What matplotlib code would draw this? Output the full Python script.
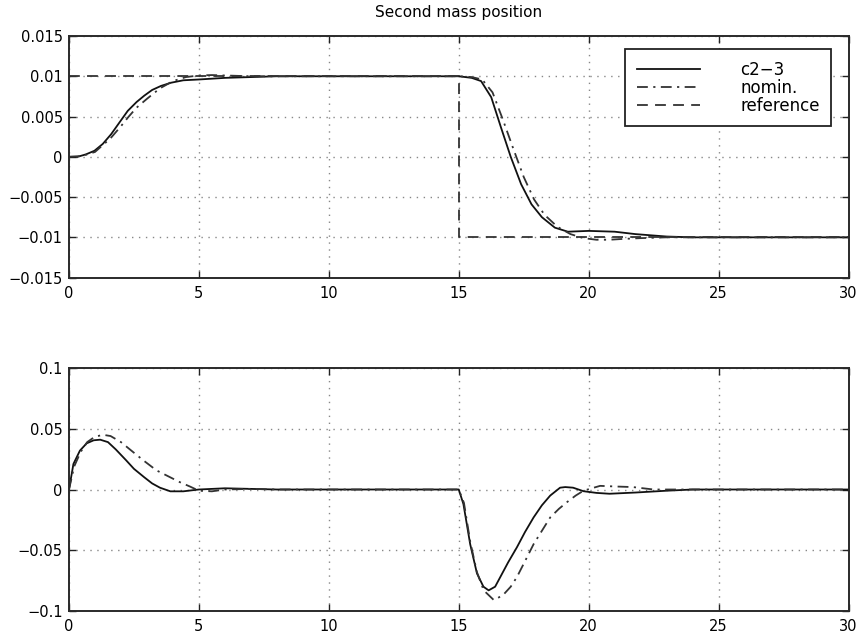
import matplotlib
matplotlib.use("Agg")
import matplotlib.pyplot as plt
from matplotlib.ticker import FixedLocator

plt.rcParams['font.family'] = ['DejaVu Sans']

title = "Second mass position"
legend_labels = ["c2\u22123", "nomin.", "reference"]

# ---- top panel: second mass position ----
t_c23_pos = [0, 0.33, 0.65, 0.98, 1.3, 1.62, 1.95, 2.26, 2.6, 2.9, 3.2, 3.54, 3.93, 4.4, 5.0, 6.0, 7.0, 8.0,
             15.0, 15.5, 15.86, 16.25, 16.63, 17.0, 17.4, 17.8, 18.2, 18.7, 19.2, 20.0, 21.0, 21.8, 23.0, 24.0, 30.0]
c23_pos = [0, 0.0, 0.0003, 0.00075, 0.0016, 0.0028, 0.0043, 0.0057, 0.0068, 0.0076, 0.0083, 0.0088, 0.0092, 0.0095, 0.0096, 0.0098, 0.0099, 0.01,
           0.01, 0.0098, 0.0094, 0.0074, 0.0036, 0.0, -0.0034, -0.0059, -0.0075, -0.0088, -0.0093, -0.0092, -0.0093, -0.0096, -0.0099, -0.01, -0.01]

t_nom_pos = [0, 0.5, 1.0, 1.6, 2.0, 2.3, 2.6, 3.0, 3.5, 4.0, 4.5, 5.0, 5.5, 6.0, 7.0, 8.0,
             15.0, 15.5, 15.9, 16.3, 16.7, 17.1, 17.5, 17.9, 18.3, 18.8, 19.3, 19.8, 20.3, 20.8, 21.3, 22.0, 23.0, 30.0]
nom_pos = [0, 0.0001, 0.0006, 0.0023, 0.0038, 0.0050, 0.0061, 0.0072, 0.0085, 0.0094, 0.0099, 0.0101, 0.01015, 0.0101, 0.01, 0.01,
           0.01, 0.0099, 0.0096, 0.0080, 0.0046, 0.0010, -0.0025, -0.0053, -0.0072, -0.0087, -0.0096, -0.0101, -0.0103, -0.0103, -0.0102, -0.0101, -0.01, -0.01]

t_ref = [0, 15, 15, 30]
ref_pos = [0.01, 0.01, -0.01, -0.01]

# ---- bottom panel ----
t_c23_b = [0, 0.17, 0.42, 0.68, 0.95, 1.2, 1.5, 1.8, 2.2, 2.5, 2.9, 3.2, 3.5, 3.9, 4.4, 5.0, 6.0, 7.0, 8.0,
           15.0, 15.18, 15.44, 15.7, 15.95, 16.15, 16.4, 16.6, 16.9, 17.24, 17.55, 17.88, 18.2, 18.52, 18.9, 19.1, 19.4,
           19.8, 20.3, 20.8, 21.8, 23.0, 24.0, 30.0]
c23_b = [0, 0.021, 0.032, 0.038, 0.0405, 0.041, 0.039, 0.033, 0.024, 0.017, 0.010, 0.005, 0.0015, -0.0015, -0.0015, 0.0, 0.001, 0.0005, 0.0,
         0.0, -0.012, -0.045, -0.069, -0.080, -0.083, -0.080, -0.072, -0.060, -0.0475, -0.035, -0.023, -0.013, -0.005, 0.0015, 0.002, 0.0015,
         -0.0014, -0.0028, -0.0035, -0.0025, -0.001, 0.0, 0.0]

t_nom_b = [0, 0.2, 0.45, 0.7, 1.0, 1.32, 1.6, 2.0, 2.4, 2.86, 3.37, 3.9, 4.27, 4.65, 5.0, 5.5, 6.0, 7.0, 8.0,
           15.0, 15.2, 15.45, 15.7, 15.96, 16.35, 16.7, 17.0, 17.24, 17.55, 17.88, 18.2, 18.52, 18.85, 19.16, 19.5,
           19.8, 20.44, 21.0, 21.7, 22.5, 30.0]
nom_b = [0, 0.019, 0.031, 0.039, 0.0435, 0.045, 0.044, 0.039, 0.032, 0.024, 0.0157, 0.010, 0.006, 0.0025, -0.001, -0.0015, 0.0, 0.0005, 0.0,
         0.0, -0.011, -0.044, -0.068, -0.083, -0.091, -0.087, -0.080, -0.072, -0.059, -0.045, -0.034, -0.023, -0.016, -0.0105, -0.005,
         -0.001, 0.003, 0.0025, 0.002, 0.0, 0.0]

xticks = [0, 5, 10, 15, 20, 25, 30]
yticks_top = [-0.015, -0.01, -0.005, 0, 0.005, 0.01, 0.015]
ytick_labels_top = ["\u22120.015", "\u22120.01", "\u22120.005", "0", "0.005", "0.01", "0.015"]
yticks_bot = [-0.1, -0.05, 0, 0.05, 0.1]
ytick_labels_bot = ["\u22120.1", "\u22120.05", "0", "0.05", "0.1"]

W, H = 866, 639
fig = plt.figure(figsize=(W / 100, H / 100), dpi=100)

def ax_rect(x0, y0, x1, y1):
    return [x0 / W, 1 - y1 / H, (x1 - x0) / W, (y1 - y0) / H]

ax1 = fig.add_axes(ax_rect(69, 36, 848.5, 277.6))
ax2 = fig.add_axes(ax_rect(69, 368, 848.5, 611))

dashdot = (0, (6, 3, 1.2, 3))
dashed = (0, (6, 4))

def style(ax, yt, ylabels, ylim):
    ax.set_xlim(0, 30)
    ax.set_ylim(*ylim)
    ax.xaxis.set_major_locator(FixedLocator(xticks))
    ax.set_xticklabels([str(v) for v in xticks])
    ax.set_yticks(yt)
    ax.set_yticklabels(ylabels)
    ax.tick_params(direction='in', length=5, width=1.0, top=True, right=True,
                   labelsize=10.5, color='#222222')
    ax.tick_params(axis='x', pad=6)
    ax.tick_params(axis='y', pad=4.5)
    ax.grid(True, linestyle=(0, (1, 4)), color='#888888', linewidth=1.0)
    for s in ax.spines.values():
        s.set_linewidth(1.4)
        s.set_color('#2a2a2a')

l1, = ax1.plot(t_c23_pos, c23_pos, color='#111111', lw=1.3, linestyle='-', label=legend_labels[0])
l2, = ax1.plot(t_nom_pos, nom_pos, color='#333333', lw=1.3, linestyle=dashdot, label=legend_labels[1])
l3, = ax1.plot(t_ref, ref_pos, color='#333333', lw=1.3, linestyle=dashed, label=legend_labels[2])
style(ax1, yticks_top, ytick_labels_top, (-0.015, 0.015))
ax1.set_title(title, fontsize=11, pad=14)

leg = ax1.legend(handles=[l1, l2, l3], loc='upper left',
                 bbox_to_anchor=((625 - 69) / 779.5, 1 - (49 - 36) / 241.6),
                 fontsize=12, handlelength=3.8, handletextpad=2.4, labelspacing=0.0,
                 borderpad=0.7, fancybox=False, framealpha=1, edgecolor='#222222',
                 borderaxespad=0)
leg.get_frame().set_linewidth(1.3)

ax2.plot(t_c23_b, c23_b, color='#111111', lw=1.3, linestyle='-')
ax2.plot(t_nom_b, nom_b, color='#333333', lw=1.3, linestyle=dashdot)
style(ax2, yticks_bot, ytick_labels_bot, (-0.1, 0.1))

fig.savefig("out.png", dpi=100)
